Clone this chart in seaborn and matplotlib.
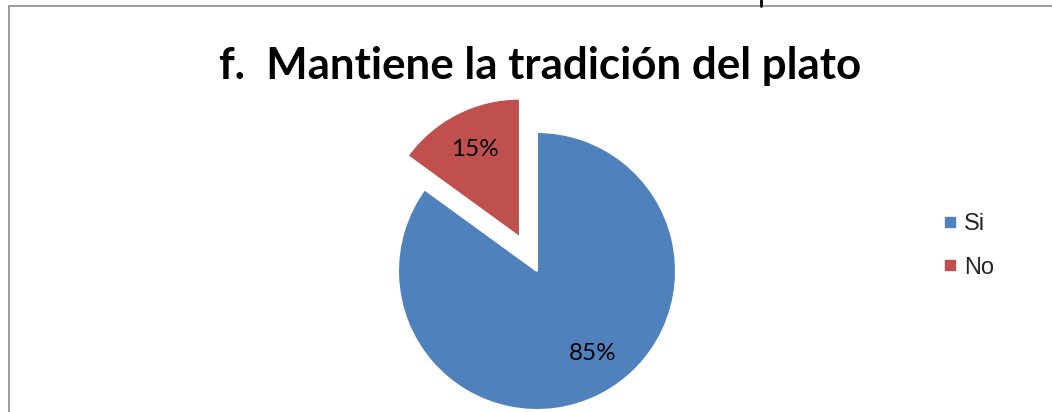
import matplotlib
matplotlib.use("Agg")
import matplotlib.pyplot as plt
import seaborn as sns
import numpy as np
from matplotlib.lines import Line2D
from matplotlib.patches import Rectangle

categories = ["Si", "No"]
values = [85, 15]
title = "f.  Mantiene la tradición del plato"

sns.set_theme(style="white")
plt.rcParams["font.family"] = ["Lato", "DejaVu Sans"]

colors = ["#4F81BD", "#C0504D"]

W, H = 1052, 412
fig = plt.figure(figsize=(W / 100, H / 100), dpi=100)

# chart border (extends beyond the crop)
fig.add_artist(Rectangle((9 / W, -0.2), 1.2, (H - 6) / H + 0.2, transform=fig.transFigure,
                         fill=False, edgecolor="#8c8c8c", linewidth=1.2, clip_on=False))
fig.add_artist(Line2D([761 / W, 761 / W], [1, (H - 6) / H], transform=fig.transFigure,
                      color="black", linewidth=2))

cx, cy, r = 537, 412 - 271, 139
half = 1.25 * r
ax = fig.add_axes([(cx - half) / W, (cy - half) / H, 2 * half / W, 2 * half / H])

wedges, texts, autotexts = ax.pie(
    values, colors=colors, startangle=90, counterclock=False,
    explode=[0, 0.27], autopct="%1.0f%%", pctdistance=0.71,
    wedgeprops=dict(edgecolor="white", linewidth=1.5),
    textprops=dict(fontsize=17.5, color="black", family=["Lato", "DejaVu Sans"]),
)
for w in wedges:
    w.set_clip_on(False)
# Excel places the big slice's label a little further round
t0 = wedges[0]
ang = np.deg2rad((t0.theta1 + t0.theta2) / 2 + 7)
autotexts[0].set_position((0.72 * np.cos(ang), 0.72 * np.sin(ang)))

ax.set_xlim(-1.25, 1.25)
ax.set_ylim(-1.25, 1.25)
ax.set_aspect("equal")
ax.axis("off")

fig.text(540 / W, 1 - 66 / H, title, ha="center", va="center",
         fontsize=31.6, fontweight="bold", color="black", family=["Lato", "DejaVu Sans"])

handles = [Line2D([], [], marker="s", linestyle="none", markersize=7.5,
                  markerfacecolor=c, markeredgecolor=c) for c in colors]
fig.legend(handles, categories, loc="center left", bbox_to_anchor=(932 / W, 1 - 246 / H),
           frameon=False, prop=dict(family=["Liberation Sans", "DejaVu Sans"], size=17),
           handlelength=0.55, handletextpad=0.3, labelspacing=0.9, borderpad=0)

fig.savefig("out.png", dpi=100)
